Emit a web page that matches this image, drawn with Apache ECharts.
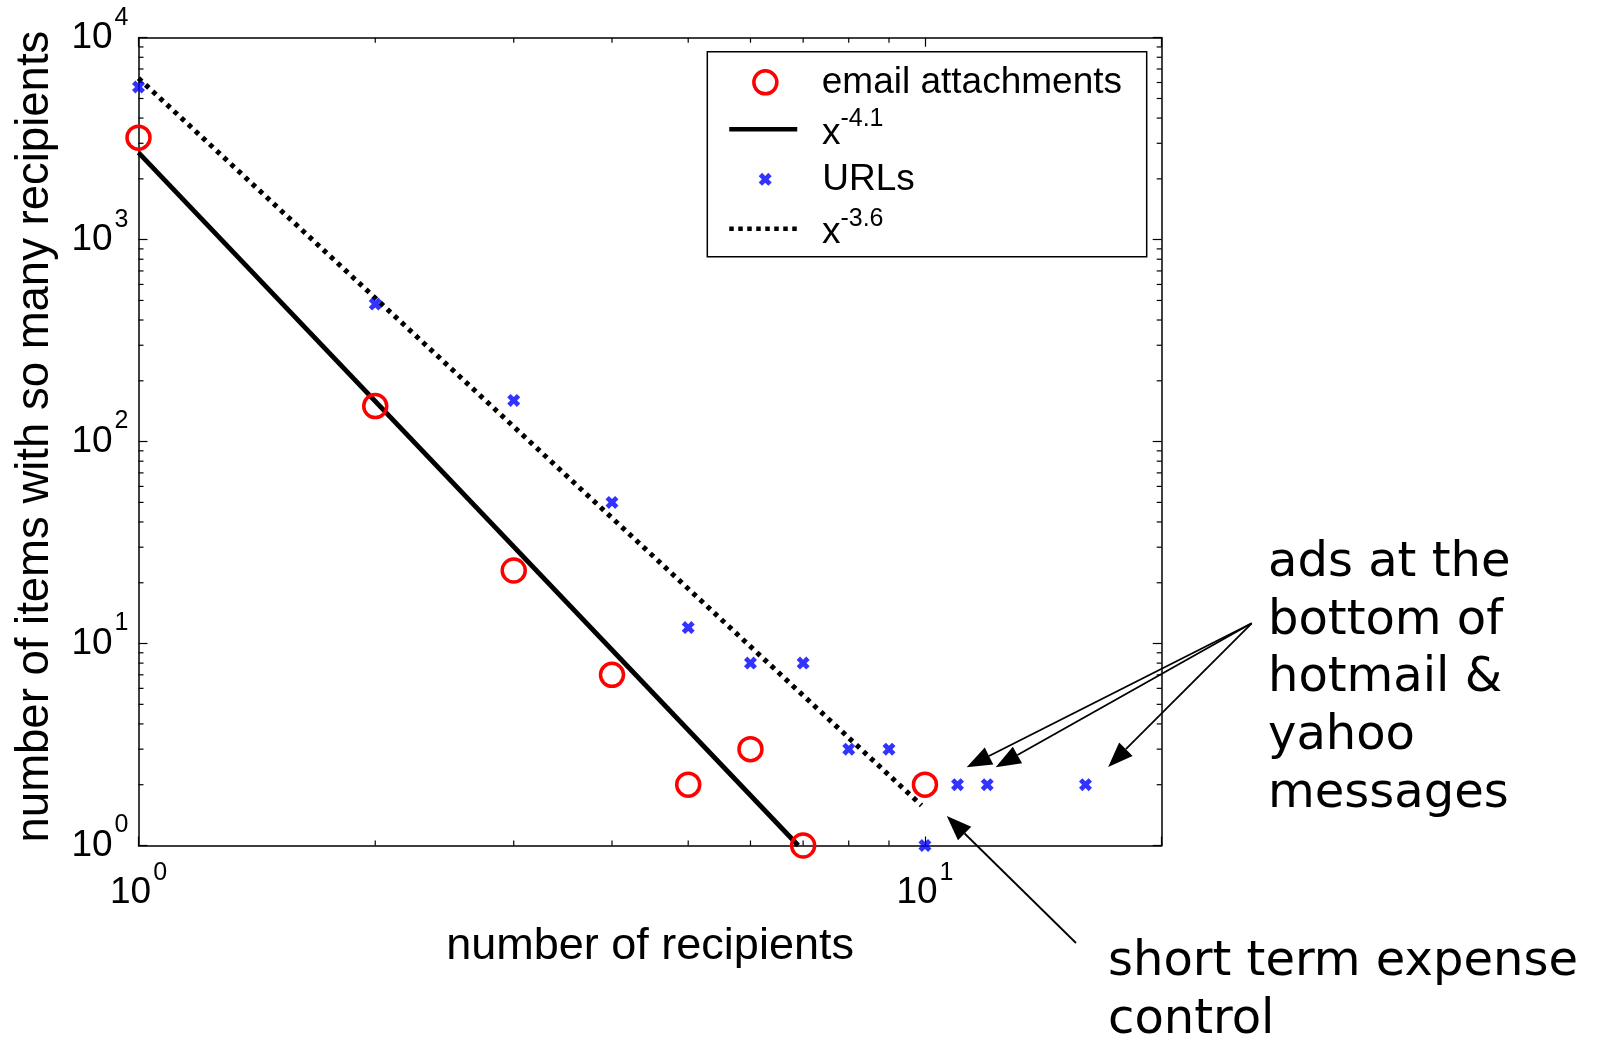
<!DOCTYPE html>
<html>
<head>
<meta charset="utf-8">
<script src="https://cdn.jsdelivr.net/npm/echarts@6/dist/echarts.min.js"></script>
<style>
  html, body { margin: 0; padding: 0; background: #fff; }
  #chart { width: 1598px; height: 1037px; }
</style>
</head>
<body>
<div id="chart"></div>
<script>
// Items by number of recipients (log-log)
const emailRecipients = [1, 2, 3, 4, 5, 6, 7, 10];
const emailCounts = [3200, 150, 23, 7, 2, 3, 1, 2];
const urlRecipients = [1, 2, 3, 4, 5, 6, 7, 8, 9, 10, 11, 12, 16];
const urlCounts = [5700, 480, 160, 50, 12, 8, 8, 3, 3, 1, 2, 2, 2];

// Power-law fits: straight segments on log-log axes (end points)
const fitEmail = [[1, 2700], [6.9, 1]];
const fitUrl = [[1, 6300], [9.9, 1.58]];

// Axis ranges and minor tick values
const xRange = [1, 20];
const yRange = [1, 10000];
const xMinorTicks = [2, 3, 4, 5, 6, 7, 8, 9];
const yMinorTicks = [2, 3, 4, 5, 6, 7, 8, 9,
                     20, 30, 40, 50, 60, 70, 80, 90,
                     200, 300, 400, 500, 600, 700, 800, 900,
                     2000, 3000, 4000, 5000, 6000, 7000, 8000, 9000];

// Series names (legend labels)
const names = ['email attachments', 'x^-4.1', 'URLs', 'x^-3.6'];

// Annotation targets in data space
const adsTargets = [[11.3, 2.44], [12.3, 2.44], [17.1, 2.45]];
const expenseTarget = [10.66, 1.40];

const SANS = '"Liberation Sans", Arial, Helvetica, sans-serif';
const NOTE = '"DejaVu Sans", Verdana, sans-serif';
const X_MARK = 'path://M0,2.6L2.6,0L5,2.4L7.4,0L10,2.6L7.6,5L10,7.4L7.4,10L5,7.6L2.6,10L0,7.4L2.4,5Z';

const pair = (xs, ys) => xs.map((x, i) => [x, ys[i]]);

// Decade labels: "10" with the exponent raised
function powerLabel(v) {
  const e = Math.log10(v);
  const r = Math.round(e);
  if (Math.abs(e - r) > 1e-6) return '';
  return '{base|10}{gap|}{sup|' + r + '}';
}
const tickRich = {
  base: { fontSize: 37, fontFamily: SANS, color: '#000', lineHeight: 65, verticalAlign: 'middle' },
  gap: { width: 2, fontSize: 34, fontFamily: SANS },
  sup: { fontSize: 25, fontFamily: SANS, color: '#000', verticalAlign: 'top' }
};

function legendText(name) {
  const m = name.match(/^x\^(.*)$/);
  return m ? '{b|x}{s|' + m[1] + '}' : '{t|' + name + '}';
}
const legendRich = {
  t: { fontSize: 37, fontFamily: SANS, color: '#000', lineHeight: 45, verticalAlign: 'middle' },
  b: { fontSize: 37, fontFamily: SANS, color: '#000', lineHeight: 45, verticalAlign: 'bottom' },
  s: { fontSize: 25, fontFamily: SANS, color: '#000', verticalAlign: 'top' }
};

// origin: left end of the legend icon box; boundLeft: left edge of the drawn icon
function legendRow(name, origin, boundLeft, centerY, itemHeight, extra) {
  return Object.assign({
    data: [name],
    orient: 'vertical',
    left: boundLeft,
    top: centerY - 22.5,
    padding: 0,
    itemWidth: 68,
    itemHeight: itemHeight,
    itemGap: 0,
    formatter: legendText,
    textStyle: {
      fontSize: 37, fontFamily: SANS, color: '#000', lineHeight: 45,
      padding: [0, 0, 0, 821.7 - (origin + 73)],
      rich: legendRich
    }
  }, extra || {});
}

const axisCommon = {
  type: 'log',
  logBase: 10,
  axisLine: { show: true, onZero: false, lineStyle: { color: '#000', width: 1.5 } },
  axisTick: { show: true, inside: true, length: 9, lineStyle: { color: '#000', width: 1.2 } },
  splitLine: { show: false },
  minorTick: { show: false },
  minorSplitLine: { show: false }
};

function minorTickSeries(values, isX) {
  return {
    type: 'custom',
    silent: true,
    z: 1,
    data: values.map(v => isX ? [v, yRange[0]] : [xRange[0], v]),
    renderItem: function (params, api) {
      const len = 5;
      const style = { stroke: '#000', lineWidth: 1.2 };
      if (isX) {
        const v = api.value(0);
        const a = api.coord([v, yRange[0]]);
        const b = api.coord([v, yRange[1]]);
        return { type: 'group', children: [
          { type: 'line', shape: { x1: a[0], y1: a[1], x2: a[0], y2: a[1] - len }, style: style },
          { type: 'line', shape: { x1: b[0], y1: b[1], x2: b[0], y2: b[1] + len }, style: style }
        ] };
      }
      const v = api.value(1);
      const a = api.coord([xRange[0], v]);
      const b = api.coord([xRange[1], v]);
      return { type: 'group', children: [
        { type: 'line', shape: { x1: a[0], y1: a[1], x2: a[0] + len, y2: a[1] }, style: style },
        { type: 'line', shape: { x1: b[0], y1: b[1], x2: b[0] - len, y2: b[1] }, style: style }
      ] };
    }
  };
}

const chart = echarts.init(document.getElementById('chart'), null, { renderer: 'canvas' });

const tickLabel = {
  show: true, formatter: powerLabel, rich: tickRich,
  fontSize: 37, fontFamily: SANS, color: '#000',
  showMinLabel: true, showMaxLabel: true, hideOverlap: false
};

const option = {
  animation: false,
  backgroundColor: '#fff',
  grid: {
    left: 138.5, top: 37.7, right: 436.3, bottom: 191.5,
    containLabel: false, outerBoundsMode: 'none',
    show: false
  },
  xAxis: [
    Object.assign({}, axisCommon, {
      position: 'bottom',
      min: xRange[0], max: xRange[1],
      name: 'number of recipients',
      nameLocation: 'middle',
      nameGap: 79,
      nameTextStyle: { fontSize: 45, fontFamily: SANS, color: '#000' },
      axisLabel: Object.assign({ margin: 15 }, tickLabel)
    }),
    Object.assign({}, axisCommon, {
      position: 'top',
      min: xRange[0], max: xRange[1],
      axisLabel: { show: false }
    })
  ],
  yAxis: [
    Object.assign({}, axisCommon, {
      position: 'left',
      min: yRange[0], max: yRange[1],
      name: 'number of items with so many recipients',
      nameLocation: 'middle',
      nameGap: 80,
      nameTextStyle: { fontSize: 45.5, fontFamily: SANS, color: '#000', padding: [0, 0, 0, 10] },
      axisLabel: Object.assign({ margin: 10 }, tickLabel)
    }),
    Object.assign({}, axisCommon, {
      position: 'right',
      min: yRange[0], max: yRange[1],
      axisLabel: { show: false }
    })
  ],
  legend: [
    legendRow(names[0], 731.3, 752.1, 82.3, 23, { itemStyle: { borderWidth: 3.5 } }),
    legendRow(names[1], 729, 727, 129.3, 0.1, { lineStyle: { width: 4.5, type: 'solid' }, itemStyle: { opacity: 0 } }),
    legendRow(names[2], 730.7, 758.7, 179.3, 13),
    legendRow(names[3], 729, 727, 228.7, 0.1, { lineStyle: { width: 4.5, type: [4.5, 4.5] }, itemStyle: { opacity: 0 } })
  ],
  series: [
    {
      name: names[0],
      type: 'scatter',
      data: pair(emailRecipients, emailCounts),
      symbol: 'circle',
      symbolSize: 23,
      itemStyle: { color: 'rgba(0,0,0,0)', borderColor: '#ff0000', borderWidth: 3.5, opacity: 1 },
      clip: false,
      z: 3
    },
    {
      name: names[1],
      type: 'line',
      data: fitEmail,
      symbol: 'none',
      lineStyle: { color: '#000', width: 4.8, type: 'solid' },
      itemStyle: { color: '#000' },
      z: 3
    },
    {
      name: names[2],
      type: 'scatter',
      data: pair(urlRecipients, urlCounts),
      symbol: X_MARK,
      symbolSize: 13,
      itemStyle: { color: '#0000ff' },
      clip: false,
      z: 3
    },
    {
      name: names[3],
      type: 'line',
      data: fitUrl,
      symbol: 'none',
      lineStyle: { color: '#000', width: 5, type: [4.5, 5.2], cap: 'butt' },
      itemStyle: { color: '#000' },
      z: 3
    },
    minorTickSeries(xMinorTicks, true),
    minorTickSeries(yMinorTicks, false)
  ]
};

chart.setOption(option);

// Annotations: notes and arrows
function arrow(tail, tip) {
  const dx = tip[0] - tail[0], dy = tip[1] - tail[1];
  const L = Math.sqrt(dx * dx + dy * dy);
  const ux = dx / L, uy = dy / L;
  const headLen = 25, headHalf = 9.5;
  const bx = tip[0] - ux * headLen, by = tip[1] - uy * headLen;
  return [
    { type: 'line', silent: true, z: 10,
      shape: { x1: tail[0], y1: tail[1], x2: bx, y2: by },
      style: { stroke: '#000', lineWidth: 1.8 } },
    { type: 'polygon', silent: true, z: 10,
      shape: { points: [tip, [bx - uy * headHalf, by + ux * headHalf], [bx + uy * headHalf, by - ux * headHalf]] },
      style: { fill: '#000' } }
  ];
}

const toPx = p => chart.convertToPixel({ xAxisIndex: 0, yAxisIndex: 0 }, p);
const adsTail = [1251.7, 623.3];
const expenseTail = [1076, 943];

let graphics = [
  { type: 'rect', z: 0, silent: true,
    shape: { x: 707.3, y: 51.7, width: 439.4, height: 205 },
    style: { fill: '#fff', stroke: '#000', lineWidth: 1.5 } },
  { type: 'text', z: 10, silent: true, x: 1268, y: 535,
    style: { text: 'ads at the\nbottom of\nhotmail &\nyahoo\nmessages', font: '48px ' + NOTE,
             lineHeight: 57.6, fill: '#000', verticalAlign: 'top', align: 'left' } },
  { type: 'text', z: 10, silent: true, x: 1108, y: 934,
    style: { text: 'short term expense\ncontrol', font: '48px ' + NOTE,
             lineHeight: 57.6, fill: '#000', verticalAlign: 'top', align: 'left' } }
];
adsTargets.forEach(t => { graphics = graphics.concat(arrow(adsTail, toPx(t))); });
graphics = graphics.concat(arrow(expenseTail, toPx(expenseTarget)));

chart.setOption({ graphic: graphics });
</script>
</body>
</html>
